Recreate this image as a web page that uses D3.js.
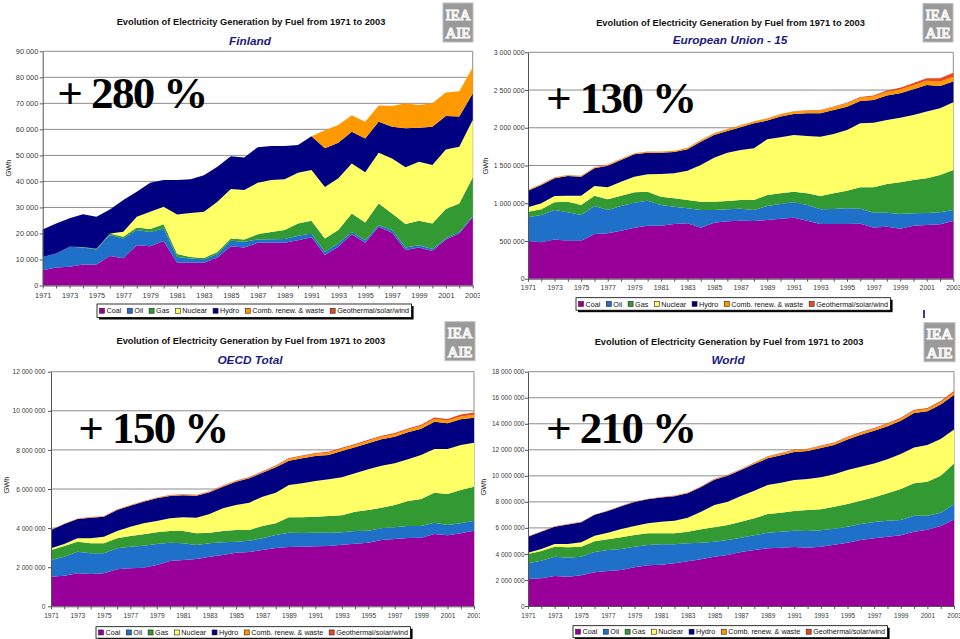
<!DOCTYPE html>
<html><head><meta charset="utf-8">
<script src="https://cdn.jsdelivr.net/npm/d3@7"></script>
<style>body{margin:0;background:#fff}svg{display:block}</style>
</head><body><svg id="c" width="960" height="639"></svg>
<script>
// ---------- DATA ----------
const years = [1971,1972,1973,1974,1975,1976,1977,1978,1979,1980,1981,1982,1983,1984,1985,1986,1987,1988,1989,1990,1991,1992,1993,1994,1995,1996,1997,1998,1999,2000,2001,2002,2003];
const yearLabels = [1971,1973,1975,1977,1979,1981,1983,1985,1987,1989,1991,1993,1995,1997,1999,2001,2003];
const fuels = ["Coal","Oil","Gas","Nuclear","Hydro","Comb. renew. & waste","Geothermal/solar/wind"];
const fuelColors = ["#990099","#1f70c8","#339933","#ffff66","#000080","#ff9900","#e8491d"];
const mainTitle = "Evolution of Electricity Generation by Fuel from 1971 to 2003";

// Finland (GWh)
const fiCoal = [5900,6900,7200,8100,8100,11300,10500,15500,15100,17100,8700,8700,8700,10800,15100,14600,16400,16400,16400,17400,18500,11700,14900,19700,16400,22600,20300,13600,14600,13300,17700,20000,26200];
const fiOil = [5100,5400,7700,6500,5700,8100,7600,5800,5500,4800,2300,1700,1300,1300,2100,2200,1300,1400,1500,1700,1500,1200,1300,900,1000,600,1000,1000,900,700,500,600,500];
const fiGas = [0,0,0,200,300,600,600,1000,1100,1600,1100,600,600,800,900,900,2000,2800,3400,4700,4900,5200,5100,7100,6800,8300,6400,9000,9400,9800,11200,10900,14800];
const fiNuclear = [0,0,0,0,0,0,2000,4100,6600,6800,15200,16900,17700,19300,19000,19000,19800,19900,19500,19500,19500,19800,19900,19200,19300,19500,21100,21800,22700,22500,22900,21800,22100];
const fiHydro = [10500,11500,10900,12600,12300,9200,12200,9600,11200,10200,13200,12900,14100,13400,12600,12500,13600,13100,12800,10700,13000,14800,13700,12200,13000,11900,12200,15000,13000,14700,12800,11600,10200];
const fiRenew = [0,0,0,0,0,0,0,0,0,0,0,0,0,0,0,0,0,0,0,0,0,7000,6800,6300,6400,6300,8000,9600,8800,9000,9100,9700,10000];
const fiGeo = [0,0,0,0,0,0,0,0,0,0,0,0,0,0,0,0,0,0,0,0,0,0,0,0,0,0,0,0,0,0,0,0,0];
const fiTicks = [0,10000,20000,30000,40000,50000,60000,70000,80000,90000];

// European Union - 15 (GWh)
const euCoal = [499000,482000,521000,504000,504000,592000,601000,636000,676000,703000,703000,725000,734000,676000,742000,760000,769000,764000,778000,795000,809000,769000,725000,725000,725000,729000,680000,689000,663000,703000,711000,720000,764000];
const euOil = [314000,362000,389000,375000,340000,371000,309000,327000,332000,331000,274000,229000,198000,234000,168000,159000,159000,146000,185000,195000,203000,208000,194000,199000,207000,199000,195000,186000,194000,163000,160000,159000,146000];
const euGas = [75000,75000,102000,142000,133000,137000,142000,137000,137000,119000,110000,111000,111000,111000,111000,111000,115000,133000,146000,141000,141000,154000,177000,207000,235000,283000,336000,380000,420000,442000,459000,495000,531000];
const euNuclear = [58000,80000,84000,79000,123000,128000,159000,186000,207000,230000,301000,331000,389000,486000,583000,640000,663000,685000,738000,743000,752000,760000,786000,787000,804000,848000,857000,848000,857000,862000,884000,884000,897000];
const euHydro = [221000,243000,234000,261000,252000,235000,287000,287000,296000,287000,282000,283000,283000,309000,301000,288000,300000,331000,248000,274000,278000,301000,310000,318000,309000,296000,300000,323000,323000,340000,353000,296000,274000];
const euRenew = [10000,10000,10000,10000,10000,11000,11000,12000,12000,13000,14000,15000,16000,18000,20000,22000,24000,26000,28000,30000,32000,34000,36000,38000,40000,42000,45000,48000,50000,52000,55000,58000,62000];
const euGeo = [3000,3000,3000,3000,3000,3000,3000,3000,3000,3000,3000,3000,3000,3000,3000,3000,3000,3000,3000,4000,5000,6000,7000,8000,10000,12000,15000,19000,24000,30000,35000,45000,55000];
const euTicks = [0,500000,1000000,1500000,2000000,2500000,3000000];

// OECD Total (GWh)
const oeCoal = [1517000,1568000,1687000,1653000,1687000,1892000,1943000,1977000,2114000,2318000,2369000,2420000,2540000,2625000,2744000,2778000,2881000,2983000,3034000,3051000,3068000,3085000,3153000,3204000,3255000,3392000,3443000,3494000,3511000,3699000,3630000,3733000,3869000];
const oeOil = [852000,972000,1108000,1057000,1023000,1074000,1108000,1125000,1073000,937000,852000,716000,681000,648000,563000,580000,596000,665000,733000,699000,699000,682000,631000,648000,614000,596000,597000,614000,597000,579000,529000,511000,511000];
const oeGas = [512000,545000,512000,511000,511000,511000,545000,580000,597000,597000,631000,597000,546000,579000,596000,545000,631000,596000,784000,801000,818000,852000,869000,989000,1057000,1057000,1141000,1278000,1380000,1534000,1585000,1705000,1739000];
const oeNuclear = [85000,102000,170000,256000,341000,375000,478000,562000,579000,648000,699000,801000,954000,1159000,1279000,1398000,1500000,1568000,1653000,1738000,1824000,1875000,1943000,1959000,2079000,2148000,2131000,2131000,2250000,2233000,2301000,2301000,2250000];
const oeHydro = [937000,1023000,989000,1057000,1023000,1074000,1073000,1108000,1159000,1142000,1125000,1125000,1108000,1108000,1193000,1244000,1227000,1296000,1245000,1279000,1278000,1244000,1347000,1330000,1330000,1346000,1364000,1381000,1347000,1398000,1313000,1312000,1278000];
const oeRenew = [20000,20000,20000,20000,20000,20000,25000,25000,25000,30000,30000,30000,30000,35000,35000,35000,40000,60000,100000,110000,110000,120000,120000,120000,130000,130000,130000,140000,140000,140000,140000,150000,150000];
const oeGeo = [8000,9000,10000,11000,12000,13000,14000,15000,16000,18000,20000,22000,24000,26000,28000,30000,32000,34000,38000,40000,42000,44000,46000,48000,50000,53000,56000,60000,65000,72000,80000,95000,110000];
const oeTicks = [0,2000000,4000000,6000000,8000000,10000000,12000000];

// World (GWh)
const wdCoal = [2074000,2125000,2304000,2253000,2355000,2586000,2688000,2765000,2970000,3123000,3175000,3277000,3431000,3584000,3789000,3917000,4147000,4301000,4429000,4480000,4532000,4480000,4557000,4711000,4864000,5069000,5197000,5325000,5428000,5709000,5850000,6150000,6650000];
const wdOil = [1203000,1357000,1485000,1459000,1434000,1561000,1613000,1613000,1587000,1562000,1561000,1459000,1382000,1280000,1152000,1152000,1101000,1127000,1203000,1229000,1254000,1280000,1255000,1229000,1229000,1229000,1255000,1229000,1177000,1229000,1088000,1018000,1158000];
const wdGas = [717000,742000,768000,794000,768000,820000,819000,896000,896000,896000,845000,845000,896000,1024000,1101000,1152000,1229000,1305000,1434000,1459000,1510000,1613000,1613000,1689000,1741000,1792000,1894000,2099000,2381000,2483000,2611000,2842000,3149000];
const wdNuclear = [102000,154000,205000,256000,333000,435000,512000,640000,691000,768000,896000,973000,1075000,1357000,1715000,1792000,1971000,2125000,2227000,2305000,2381000,2381000,2457000,2484000,2611000,2611000,2611000,2612000,2688000,2765000,2816000,2816000,2612000];
const wdHydro = [1230000,1330000,1330000,1500000,1550000,1600000,1660000,1750000,1850000,1850000,1850000,1880000,1880000,1900000,1950000,2000000,2000000,2050000,2050000,2100000,2150000,2150000,2250000,2250000,2350000,2450000,2500000,2550000,2550000,2650000,2600000,2650000,2640000];
const wdRenew = [20000,20000,20000,20000,20000,22000,22000,24000,24000,26000,26000,28000,28000,30000,30000,32000,34000,80000,120000,130000,130000,130000,140000,140000,150000,150000,160000,160000,170000,170000,170000,180000,190000];
const wdGeo = [10000,10000,11000,12000,13000,14000,15000,16000,17000,20000,21000,22000,24000,26000,30000,32000,34000,36000,40000,45000,47000,50000,52000,55000,60000,63000,66000,70000,74000,80000,85000,100000,120000];
const wdTicks = [0,2000000,4000000,6000000,8000000,10000000,12000000,14000000,16000000,18000000];

// ---------- LAYOUT ----------
const panels = [
  {id:"fi", name:"Finland", pct:"+ 280 %", series:[fiCoal,fiOil,fiGas,fiNuclear,fiHydro,fiRenew,fiGeo], ticks:fiTicks,
   clip:[0,0,480,320], l:42.7, r:472.7, t:51.3, b:285.5, tickFont:7.3, tickPad:1.5, xPad:4,
   titleX:251, titleY:24.5, subX:250, subY:44.5, logo:[443,3,30,39], pctX:57.3, pctY:108.3,
   leg:[97,304,13.5], gwh:[8,168]},
  {id:"eu", name:"European Union - 15", pct:"+ 130 %", series:[euCoal,euOil,euGas,euNuclear,euHydro,euRenew,euGeo], ticks:euTicks,
   clip:[480,0,480,320], l:528, r:953.3, t:52.3, b:278.7, tickFont:6.9, tickPad:0.5, xPad:3,
   titleX:730.5, titleY:26, subX:730, subY:44, logo:[923,3.5,30,38.5], pctX:546, pctY:113.3,
   leg:[576,297.7,12.5], gwh:[485.5,166]},
  {id:"oe", name:"OECD Total", pct:"+ 150 %", series:[oeCoal,oeOil,oeGas,oeNuclear,oeHydro,oeRenew,oeGeo], ticks:oeTicks,
   clip:[0,320,480,319], l:51, r:474, t:371.7, b:606.3, tickFont:6.6, tickPad:2.5, xPad:4,
   titleX:250.8, titleY:344, subX:250, subY:364, logo:[445,321.7,30,39], pctX:78.3, pctY:442.7,
   leg:[96,626.7,11.5], gwh:[6,485]},
  {id:"wd", name:"World", pct:"+ 210 %", series:[wdCoal,wdOil,wdGas,wdNuclear,wdHydro,wdRenew,wdGeo], ticks:wdTicks,
   clip:[480,320,480,319], l:528, r:954, t:371.7, b:606, tickFont:6.5, tickPad:0.5, xPad:4,
   titleX:729, titleY:345, subX:728, subY:364.3, logo:[924,322.7,31,39], pctX:546, pctY:442.7,
   leg:[573,625.7,12], gwh:[483,487]}
];

const FONT = "'Liberation Sans', Arial, Helvetica, sans-serif";
const svg = d3.select("#c");
const defs = svg.append("defs");
const fmt = d => d3.format(",")(d).replace(/,/g, " ");

panels.forEach(p => {
  defs.append("clipPath").attr("id", "clip-" + p.id)
    .append("rect").attr("x", p.clip[0]).attr("y", p.clip[1]).attr("width", p.clip[2]).attr("height", p.clip[3]);
  const g = svg.append("g").attr("clip-path", `url(#clip-${p.id})`);

  const x = d3.scaleLinear().domain([years[0], years[years.length - 1]]).range([p.l, p.r]);
  const y = d3.scaleLinear().domain([0, p.ticks[p.ticks.length - 1]]).range([p.b, p.t]);

  // gridlines
  g.append("g").selectAll("line").data(p.ticks.filter(t => t > 0)).join("line")
    .attr("x1", p.l).attr("x2", p.r).attr("y1", d => y(d)).attr("y2", d => y(d))
    .attr("stroke", "#8c8c8c").attr("stroke-width", 1);
  g.append("line").attr("x1", p.r).attr("x2", p.r).attr("y1", p.t).attr("y2", p.b)
    .attr("stroke", "#8c8c8c").attr("stroke-width", 1);

  // stacked areas
  const rows = years.map((yr, i) => {
    const o = {year: yr};
    fuels.forEach((f, j) => o[f] = p.series[j][i]);
    return o;
  });
  const stacked = d3.stack().keys(fuels)(rows);
  const area = d3.area().x(d => x(d.data.year)).y0(d => y(d[0])).y1(d => y(d[1]));
  g.append("g").selectAll("path").data(stacked).join("path")
    .attr("d", area).attr("fill", (d, i) => fuelColors[i]);

  // axes
  const yAxis = d3.axisLeft(y).tickValues(p.ticks).tickFormat(fmt).tickSize(3).tickSizeOuter(0).tickPadding(p.tickPad);
  const ya = g.append("g").attr("transform", `translate(${p.l},0)`).call(yAxis);
  const xAxis = d3.axisBottom(x).tickValues(years).tickSize(3).tickSizeOuter(0).tickPadding(p.xPad)
    .tickFormat(d => yearLabels.includes(d) ? String(d) : "");
  const xa = g.append("g").attr("transform", `translate(0,${p.b})`).call(xAxis);
  [ya, xa].forEach(a => {
    a.select(".domain").attr("stroke", "#555");
    a.selectAll(".tick line").attr("stroke", "#555");
    a.selectAll("text").attr("font-family", FONT).attr("font-size", p.tickFont).attr("fill", "#3a3a3a");
  });

  // titles
  g.append("text").attr("x", p.titleX).attr("y", p.titleY).attr("text-anchor", "middle")
    .attr("font-family", FONT).attr("font-weight", "bold").attr("font-size", 9.3).attr("fill", "#111")
    .text(mainTitle);
  g.append("text").attr("x", p.subX).attr("y", p.subY).attr("text-anchor", "middle")
    .attr("font-family", FONT).attr("font-weight", "bold").attr("font-style", "italic")
    .attr("font-size", 11.8).attr("fill", "#1b1b7d").text(p.name);

  // y label
  g.append("text").attr("transform", `translate(${p.gwh[0]},${p.gwh[1]}) rotate(-90)`)
    .attr("text-anchor", "middle").attr("dy", "0.35em")
    .attr("font-family", FONT).attr("font-size", 7.5).attr("fill", "#222").text("GWh");

  // logo
  const [lx, ly, lw, lh] = p.logo;
  g.append("rect").attr("x", lx).attr("y", ly).attr("width", lw).attr("height", lh)
    .attr("fill", "#9a9a9a").attr("stroke", "#bdbdbd").attr("stroke-width", 1);
  ["IEA", "AIE"].forEach((s, i) => {
    g.append("text").attr("x", lx + lw / 2).attr("y", ly + (i ? lh - 4 : lh / 2 - 3)).attr("text-anchor", "middle")
      .attr("font-family", "'Liberation Serif', serif").attr("font-size", 15)
      .attr("textLength", lw - 5).attr("lengthAdjust", "spacingAndGlyphs")
      .attr("fill", "none").attr("stroke", "#fff").attr("stroke-width", 1.1).text(s);
  });

  // percentage
  g.append("text").attr("x", p.pctX).attr("y", p.pctY)
    .attr("font-family", "'Liberation Serif', 'Times New Roman', serif").attr("font-weight", "bold")
    .attr("font-size", 45).attr("textLength", 151).attr("lengthAdjust", "spacing")
    .attr("fill", "#000").text(p.pct);

  // legend
  const [bx, by, bh] = p.leg;
  const lg = g.append("g");
  const shadow = lg.append("rect").attr("x", bx + 2).attr("y", by + 2).attr("height", bh).attr("fill", "#000");
  const box = lg.append("rect").attr("x", bx).attr("y", by).attr("height", bh)
    .attr("fill", "#fff").attr("stroke", "#000").attr("stroke-width", 0.8);
  let cx = bx + 2.5;
  fuels.forEach((f, i) => {
    lg.append("rect").attr("x", cx).attr("y", by + bh / 2 - 2.5).attr("width", 5).attr("height", 5)
      .attr("fill", fuelColors[i]).attr("stroke", "#222").attr("stroke-width", 0.6);
    const t = lg.append("text").attr("x", cx + 7).attr("y", by + bh / 2 + 2.6)
      .attr("font-family", FONT).attr("font-size", 7.2).attr("fill", "#111").text(f);
    cx += 7 + t.node().getComputedTextLength() + 6;
  });
  const bw = cx - 6 + 2.5 - bx;
  shadow.attr("width", bw);
  box.attr("width", bw);
});

// small mark under the EU chart
svg.append("rect").attr("x", 923).attr("y", 310).attr("width", 2).attr("height", 8).attr("fill", "#3a3a9a");
</script>
</body></html>
